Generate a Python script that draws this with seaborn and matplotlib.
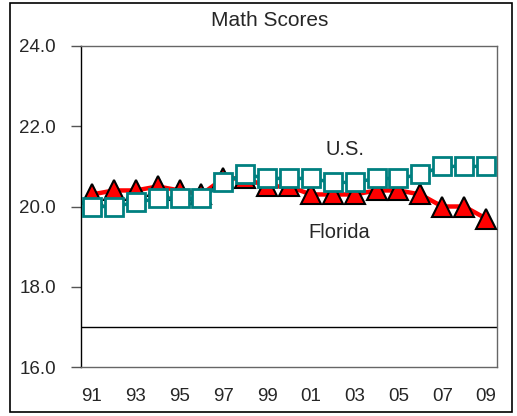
import numpy as np
import pandas as pd
import matplotlib
matplotlib.use("Agg")
import matplotlib.pyplot as plt
import seaborn as sns

years = ["91", "92", "93", "94", "95", "96", "97", "98", "99", "00",
         "01", "02", "03", "04", "05", "06", "07", "08", "09"]
florida = [20.3, 20.4, 20.4, 20.5, 20.4, 20.3, 20.7, 20.7, 20.5, 20.5,
           20.3, 20.3, 20.3, 20.4, 20.4, 20.3, 20.0, 20.0, 19.7]
us = [20.0, 20.0, 20.1, 20.2, 20.2, 20.2, 20.6, 20.8, 20.7, 20.7,
      20.7, 20.6, 20.6, 20.7, 20.7, 20.8, 21.0, 21.0, 21.0]
ref_line = 17.0

df = pd.DataFrame({"pos": np.arange(len(years)), "year": years,
                   "Florida": florida, "U.S.": us})

sns.set_style("white")
plt.rcParams["font.family"] = ["Liberation Sans", "DejaVu Sans"]

fig = plt.figure(figsize=(5.17, 4.16), dpi=100)
ax = fig.add_axes([81 / 517, 1 - 367 / 416, 416 / 517, 321 / 416])

sns.lineplot(data=df, x="pos", y="Florida", ax=ax, color="#ff0000", lw=3.2,
             marker="^", markersize=14.5, markerfacecolor="#ff0000",
             markeredgecolor="black", markeredgewidth=1.5, zorder=3)
sns.lineplot(data=df, x="pos", y="U.S.", ax=ax, color="#008080", lw=2.5,
             marker="s", markersize=12.5, markerfacecolor="white",
             markeredgecolor="#008080", markeredgewidth=2, zorder=4)
ax.axhline(ref_line, color="black", lw=1, zorder=2)

ax.set_xlim(-0.5, len(years) - 0.5)
ax.set_ylim(16, 24)
ax.set_yticks(np.arange(16, 24.1, 2))
ax.set_yticklabels([f"{v:.1f}" for v in np.arange(16, 24.1, 2)], fontsize=13.5)
ax.set_xticks(df["pos"][::2])
ax.set_xticklabels(df["year"][::2], fontsize=13.5)
ax.tick_params(axis="y", left=True, length=7, width=1, color="#555555", pad=11)
ax.tick_params(axis="x", bottom=False, length=0, pad=15)
ax.set_xlabel("")
ax.set_ylabel("")

for side in ["top", "right", "bottom"]:
    ax.spines[side].set_color("#666666")
    ax.spines[side].set_linewidth(1)
ax.spines["left"].set_color("black")
ax.spines["left"].set_linewidth(1)

ax.text(11.55, 21.42, "U.S.", fontsize=14.5, ha="center", va="center")
ax.text(11.3, 19.35, "Florida", fontsize=14.5, ha="center", va="center")

fig.text(270 / 517, 1 - 20 / 416, "Math Scores", fontsize=15, ha="center", va="center")

border = plt.Rectangle((10 / 517, 4 / 416), 502 / 517, 409 / 416,
                       transform=fig.transFigure, fill=False, edgecolor="black", lw=1.2)
fig.patches.append(border)

fig.savefig("out.png", dpi=100)
